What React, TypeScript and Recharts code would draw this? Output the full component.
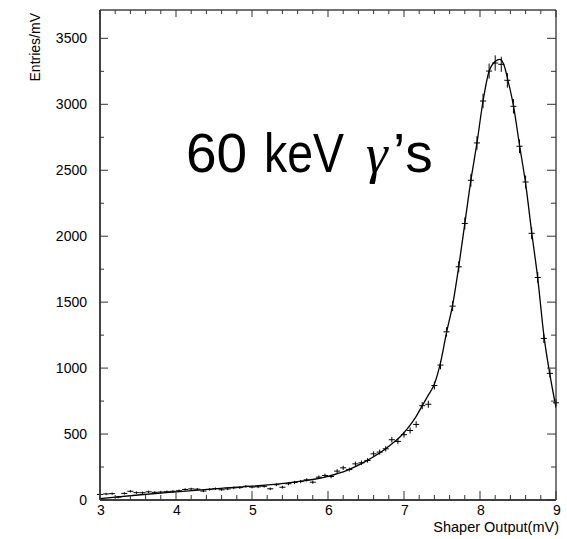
import { ComposedChart, Line, Scatter, ErrorBar, XAxis, YAxis } from 'recharts';

// histogram bin centres (mV) and entries/mV
const binCenters = [
  3.0, 3.08, 3.16, 3.24, 3.32, 3.4, 3.48, 3.56, 3.64, 3.72, 3.8, 3.88, 3.96,
  4.04, 4.12, 4.2, 4.28, 4.36, 4.44, 4.52, 4.6, 4.68, 4.76, 4.84, 4.92,
  5.0, 5.08, 5.16, 5.24, 5.32, 5.4, 5.48, 5.56, 5.64, 5.72, 5.8, 5.88, 5.96,
  6.04, 6.12, 6.2, 6.28, 6.36, 6.44, 6.52, 6.6, 6.68, 6.76, 6.84, 6.92,
  7.0, 7.08, 7.16, 7.24, 7.32, 7.4, 7.48, 7.56, 7.64, 7.72, 7.8, 7.88, 7.96,
  8.04, 8.12, 8.2, 8.28, 8.36, 8.44, 8.52, 8.6, 8.68, 8.76, 8.84, 8.92, 9.0,
];
const entries = [
  42, 46, 48, 22, 50, 66, 56, 55, 62, 58, 60, 63, 66,
  70, 80, 84, 82, 68, 80, 86, 78, 84, 92, 94, 104,
  98, 100, 104, 85, 116, 97, 123, 133, 140, 153, 135, 173, 186,
  178, 219, 244, 231, 274, 282, 300, 350, 363, 388, 457, 444,
  495, 527, 573, 715, 726, 868, 1023, 1275, 1470, 1768, 2096, 2424, 2707,
  3025, 3252, 3313, 3303, 3182, 2985, 2682, 2411, 2022, 1687, 1225, 960, 737,
];
const entryErrors = [
  9, 9, 9, 9, 9, 9, 9, 9, 9, 9, 9, 9, 9,
  9, 9, 9, 9, 9, 9, 9, 9, 9, 10, 10, 10,
  10, 10, 10, 10, 11, 10, 11, 12, 12, 12, 12, 13, 14,
  13, 15, 16, 15, 17, 17, 17, 19, 19, 20, 21, 21,
  22, 23, 24, 27, 27, 30, 32, 36, 38, 42, 46, 49, 52,
  55, 57, 58, 57, 56, 55, 52, 49, 45, 41, 35, 31, 27,
];
const binHalfWidth = 0.04;

// fitted curve
const fitX = [
  3.0, 3.5, 4.0, 4.5, 5.0, 5.5, 6.0, 6.25, 6.5, 6.75, 6.85, 6.95, 7.05, 7.15,
  7.25, 7.32, 7.4, 7.48, 7.56, 7.64, 7.72, 7.8, 7.88, 7.96, 8.04, 8.12, 8.2,
  8.26, 8.32, 8.36, 8.44, 8.52, 8.6, 8.68, 8.76, 8.84, 8.92, 9.0,
];
const fitY = [
  10, 38, 62, 85, 105, 132, 180, 225, 295, 385, 430, 480, 545, 625,
  725, 795, 880, 1040, 1270, 1480, 1768, 2096, 2424, 2707, 3025, 3252, 3325,
  3340, 3290, 3200, 2990, 2690, 2400, 2030, 1680, 1250, 950, 700,
];

const xTicks = [
  3, 3.2, 3.4, 3.6, 3.8, 4, 4.2, 4.4, 4.6, 4.8, 5, 5.2, 5.4, 5.6, 5.8,
  6, 6.2, 6.4, 6.6, 6.8, 7, 7.2, 7.4, 7.6, 7.8, 8, 8.2, 8.4, 8.6, 8.8, 9,
];
const yTicks = [0, 250, 500, 750, 1000, 1250, 1500, 1750, 2000, 2250, 2500, 2750, 3000, 3250, 3500];
const yMax = 3715;

const points = binCenters.map((x, i) => ({ x, y: entries[i], ex: binHalfWidth, ey: entryErrors[i] }));
const fitRows = fitX.map((x, i) => ({ x, y: fitY[i] }));

const FONT = '"Liberation Sans", Arial, Helvetica, sans-serif';
const TICK = '#333';

const isInt = (v: number) => Math.abs(v - Math.round(v)) < 1e-6;

const LeftTick = ({ x, y, payload }: any) => {
  const major = payload.value % 500 === 0;
  return (
    <g>
      <line x1={x} y1={y} x2={x + (major ? 8 : 4)} y2={y} stroke={TICK} />
      {major && (
        <text x={x - 13} y={y + 5} textAnchor="end" fontSize={14} fontFamily={FONT} fill="#000">
          {payload.value}
        </text>
      )}
    </g>
  );
};

const RightTick = ({ x, y, payload }: any) => {
  const major = payload.value % 500 === 0;
  return <line x1={x} y1={y} x2={x - (major ? 9 : 5)} y2={y} stroke={TICK} />;
};

const BottomTick = ({ x, y, payload }: any) => {
  const major = isInt(payload.value);
  return (
    <g>
      <line x1={x} y1={y} x2={x} y2={y - (major ? 9 : 5)} stroke={TICK} />
      {major && (
        <text x={x + 1} y={y + 15} textAnchor="middle" fontSize={14} fontFamily={FONT} fill="#000">
          {Math.round(payload.value)}
        </text>
      )}
    </g>
  );
};

const TopTick = ({ x, y, payload }: any) => {
  const major = isInt(payload.value);
  return <line x1={x} y1={y} x2={x} y2={y + (major ? 7 : 4)} stroke={TICK} />;
};

export default function App() {
  return (
    <div style={{ position: 'absolute', left: 0, top: 0, width: 567, height: 539, background: '#fff' }}>
      <ComposedChart width={567} height={539} margin={{ top: 9, right: 10, bottom: 0, left: 0 }}>
        <XAxis
          xAxisId={0} dataKey="x" type="number" domain={[3, 9]} ticks={xTicks} interval={0}
          height={39} tickSize={0} tickMargin={0} tick={<BottomTick />}
          axisLine={{ stroke: '#000', strokeWidth: 1.5 }} allowDataOverflow
        />
        <XAxis
          xAxisId="top" orientation="top" dataKey="x" type="number" domain={[3, 9]} ticks={xTicks}
          interval={0} height={1} tickSize={0} tickMargin={0} tick={<TopTick />}
          axisLine={{ stroke: '#444', strokeWidth: 1.5 }} allowDataOverflow
        />
        <YAxis
          yAxisId={0} type="number" domain={[0, yMax]} ticks={yTicks} interval={0} width={100}
          tickSize={0} tickMargin={0} tick={<LeftTick />}
          axisLine={{ stroke: '#444', strokeWidth: 2 }} allowDataOverflow
        />
        <YAxis
          yAxisId="right" orientation="right" type="number" domain={[0, yMax]} ticks={yTicks}
          interval={0} width={1} tickSize={0} tickMargin={0} tick={<RightTick />}
          axisLine={{ stroke: '#222', strokeWidth: 1.2 }} allowDataOverflow
        />
        <Line
          data={fitRows} dataKey="y" type="monotone" stroke="#000" strokeWidth={1.3}
          dot={false} activeDot={false} isAnimationActive={false}
        />
        <Scatter data={points} dataKey="y" shape={() => <g />} isAnimationActive={false}>
          <ErrorBar dataKey="ex" direction="x" width={0} stroke="#000" strokeWidth={1} isAnimationActive={false} />
          <ErrorBar dataKey="ey" direction="y" width={0} stroke="#000" strokeWidth={1} isAnimationActive={false} />
        </Scatter>
      </ComposedChart>
      <svg width={567} height={539} style={{ position: 'absolute', left: 0, top: 0, pointerEvents: 'none' }}>
        <text
          x={40} y={13} transform="rotate(-90 40 13)" textAnchor="end"
          fontSize={14} fontFamily={FONT} fill="#000"
        >
          Entries/mV
        </text>
        <text x={559} y={532} textAnchor="end" fontSize={14.5} fontFamily={FONT} fill="#000">
          Shaper Output(mV)
        </text>
        <text y={172} fontSize={55} fontFamily={FONT} fill="#000">
          <tspan x={186}>60</tspan>
          <tspan x={264} textLength={80} lengthAdjust="spacingAndGlyphs">keV</tspan>
          <tspan x={366} fontFamily='"Liberation Serif", "DejaVu Serif", serif' fontStyle="italic">γ</tspan>
          <tspan x={393}>’s</tspan>
        </text>
      </svg>
    </div>
  );
}
